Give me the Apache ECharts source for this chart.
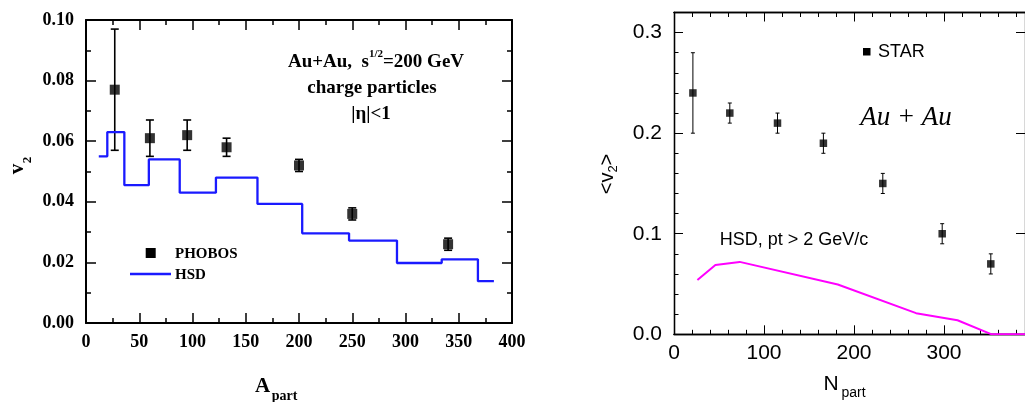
<!DOCTYPE html>
<html>
<head>
<meta charset="utf-8">
<script src="https://cdn.jsdelivr.net/npm/echarts@6/dist/echarts.min.js"></script>
<style>
html, body { margin: 0; padding: 0; background: #fff; }
#main { width: 1025px; height: 402px; }
</style>
</head>
<body>
<div id="main"></div>
<script>
// left panel: PHOBOS v2 vs A_part with HSD histogram
var phobosX = [27, 60, 95, 132, 200, 250, 340];
var phobosY = [0.077, 0.061, 0.062, 0.058, 0.052, 0.036, 0.026];
var phobosErr = [0.020, 0.006, 0.005, 0.003, 0.002, 0.002, 0.002];
var hsdEdges = [12, 20, 36, 59, 88, 122, 161, 203, 247, 292, 334, 368, 383];
var hsdLevels = [0.055, 0.063, 0.0455, 0.054, 0.043, 0.048, 0.0393, 0.0296, 0.0272, 0.0198, 0.021, 0.0138];

// right panel: STAR <v2> vs N_part, HSD pt > 2 GeV/c
var starX = [21, 62, 115, 166, 232, 298, 352];
var starY = [0.24, 0.22, 0.21, 0.19, 0.15, 0.10, 0.07];
var starErr = [0.04, 0.01, 0.01, 0.01, 0.01, 0.01, 0.01];
var hsdNX = [26, 46, 73, 182, 269, 315, 353, 390];
var hsdNY = [0.054, 0.069, 0.072, 0.0495, 0.021, 0.014, 0.0, 0.0];

var SERIF = "'Liberation Serif', 'Times New Roman', serif";
var SANS = "'Liberation Sans', Arial, sans-serif";

function zip(a, b, c) {
    var out = [];
    for (var i = 0; i < a.length; i++) {
        out.push(c ? [a[i], b[i], c[i]] : [a[i], b[i]]);
    }
    return out;
}

// histogram -> step points
var hsdSteps = [];
for (var i = 0; i < hsdLevels.length; i++) {
    hsdSteps.push([hsdEdges[i], hsdLevels[i]], [hsdEdges[i + 1], hsdLevels[i]]);
}

function errorBars(cap, width) {
    return function (params, api) {
        var x = api.value(0), y = api.value(1), e = api.value(2);
        var hi = api.coord([x, y + e]);
        var lo = api.coord([x, y - e]);
        var st = { stroke: '#000', lineWidth: width };
        return {
            type: 'group',
            children: [
                { type: 'line', shape: { x1: hi[0], y1: hi[1], x2: lo[0], y2: lo[1] }, style: st },
                { type: 'line', shape: { x1: hi[0] - cap, y1: hi[1], x2: hi[0] + cap, y2: hi[1] }, style: st },
                { type: 'line', shape: { x1: lo[0] - cap, y1: lo[1], x2: lo[0] + cap, y2: lo[1] }, style: st }
            ]
        };
    };
}

// one axis; ticks drawn inward, no grid lines
function axis(o, lw) {
    var a = {
        type: 'value',
        splitLine: { show: false },
        axisLine: { show: true, onZero: false, lineStyle: { color: '#000', width: lw } },
        axisTick: { show: true, inside: true, length: 5, lineStyle: { color: '#000', width: lw * 0.75 } },
        axisLabel: { show: false },
        minorTick: { show: false },
        minorSplitLine: { show: false }
    };
    for (var k in o) a[k] = o[k];
    return a;
}

var leftLabel = { show: true, color: '#000', fontFamily: SERIF, fontWeight: 'bold', fontSize: 18 };
var rightLabel = { show: true, color: '#000', fontFamily: SANS, fontSize: 21 };

var option = {
    animation: false,
    backgroundColor: '#fff',
    grid: [
        { left: 86, top: 20, width: 426, height: 303 },
        { left: 674, top: 12.5, width: 357, height: 321.8 }
    ],
    xAxis: [
        axis({ gridIndex: 0, position: 'bottom', min: 0, max: 400, interval: 50,
            axisTick: { show: true, inside: true, length: 10, lineStyle: { color: '#000', width: 1.5 } },
            minorTick: { show: true, splitNumber: 2, length: 5, lineStyle: { color: '#000', width: 1.5 } },
            axisLabel: Object.assign({ margin: 10 }, leftLabel) }, 2),
        axis({ gridIndex: 0, position: 'top', min: 0, max: 400, interval: 50,
            axisTick: { show: true, inside: true, length: 10, lineStyle: { color: '#000', width: 1.5 } },
            minorTick: { show: true, splitNumber: 2, length: 5, lineStyle: { color: '#000', width: 1.5 } } }, 2),
        axis({ gridIndex: 1, position: 'bottom', min: 0, max: 390, interval: 20,
            axisTick: { show: true, inside: true, length: 4.5, lineStyle: { color: '#000', width: 1 } } }, 1.3),
        axis({ gridIndex: 1, position: 'bottom', min: 0, max: 390, interval: 100,
            axisTick: { show: true, inside: true, length: 9, lineStyle: { color: '#000', width: 1 } },
            axisLabel: Object.assign({ margin: 8, showMaxLabel: false }, rightLabel) }, 1.3),
        axis({ gridIndex: 1, position: 'top', min: 0, max: 390, interval: 20,
            axisTick: { show: true, inside: true, length: 4.5, lineStyle: { color: '#000', width: 1 } } }, 1.3),
        axis({ gridIndex: 1, position: 'top', min: 0, max: 390, interval: 100,
            axisTick: { show: true, inside: true, length: 9, lineStyle: { color: '#000', width: 1 } } }, 1.3)
    ],
    yAxis: [
        axis({ gridIndex: 0, position: 'left', min: 0, max: 0.1, interval: 0.02,
            axisTick: { show: true, inside: true, length: 10, lineStyle: { color: '#000', width: 1.5 } },
            minorTick: { show: true, splitNumber: 2, length: 5, lineStyle: { color: '#000', width: 1.5 } },
            axisLabel: Object.assign({ margin: 12, formatter: function (v) { return v.toFixed(2); } }, leftLabel) }, 2),
        axis({ gridIndex: 0, position: 'right', min: 0, max: 0.1, interval: 0.02,
            axisTick: { show: true, inside: true, length: 10, lineStyle: { color: '#000', width: 1.5 } },
            minorTick: { show: true, splitNumber: 2, length: 5, lineStyle: { color: '#000', width: 1.5 } } }, 2),
        axis({ gridIndex: 1, position: 'left', min: 0, max: 0.32, interval: 0.02,
            axisTick: { show: true, inside: true, length: 4.5, lineStyle: { color: '#000', width: 1 } } }, 1.3),
        axis({ gridIndex: 1, position: 'left', min: 0, max: 0.32, interval: 0.1,
            axisTick: { show: true, inside: true, length: 9, lineStyle: { color: '#000', width: 1 } },
            axisLabel: Object.assign({ margin: 12, showMaxLabel: false,
                formatter: function (v) { return v.toFixed(1); } }, rightLabel) }, 1.3),
        axis({ gridIndex: 1, position: 'right', min: 0, max: 0.32, interval: 0.1,
            axisTick: { show: true, inside: true, length: 9, lineStyle: { color: '#000', width: 1 } } }, 1.3)
    ],
    series: [
        {
            name: 'HSD', type: 'line', xAxisIndex: 0, yAxisIndex: 0,
            data: hsdSteps, symbol: 'none',
            lineStyle: { color: '#1a1aff', width: 2.3 }
        },
        {
            name: 'PHOBOS err', type: 'custom', xAxisIndex: 0, yAxisIndex: 0,
            dimensions: ['x', 'y', 'err'], encode: { x: 'x', y: 'y' },
            data: zip(phobosX, phobosY, phobosErr),
            renderItem: errorBars(4, 1.6), z: 3
        },
        {
            name: 'PHOBOS', type: 'scatter', xAxisIndex: 0, yAxisIndex: 0,
            data: zip(phobosX, phobosY), symbol: 'rect', symbolSize: 10,
            itemStyle: { color: '#000' }, z: 4
        },
        {
            name: 'HSD pt>2', type: 'line', xAxisIndex: 2, yAxisIndex: 2,
            data: zip(hsdNX, hsdNY), symbol: 'none',
            lineStyle: { color: '#ff00ff', width: 2 }
        },
        {
            name: 'STAR err', type: 'custom', xAxisIndex: 2, yAxisIndex: 2,
            dimensions: ['x', 'y', 'err'], encode: { x: 'x', y: 'y' },
            data: zip(starX, starY, starErr),
            renderItem: errorBars(2, 1), z: 3
        },
        {
            name: 'STAR', type: 'scatter', xAxisIndex: 2, yAxisIndex: 2,
            data: zip(starX, starY), symbol: 'rect', symbolSize: 7.5,
            itemStyle: { color: '#000' }, z: 4
        }
    ],
    graphic: [
        // left panel texts
        { type: 'text', x: 376, y: 62, style: { text: 'Au+Au,  s{sup|1/2}=200 GeV', font: 'bold 19px ' + SERIF,
            fill: '#000', align: 'center', verticalAlign: 'middle', lineHeight: 26,
            rich: { sup: { font: 'bold 11px ' + SERIF, verticalAlign: 'top', lineHeight: 11 } } } },
        { type: 'text', x: 372, y: 88, style: { text: 'charge particles', font: 'bold 19px ' + SERIF,
            fill: '#000', align: 'center', verticalAlign: 'middle' } },
        { type: 'text', x: 371, y: 114, style: { text: '|η|<1', font: 'bold 19px ' + SERIF,
            fill: '#000', align: 'center', verticalAlign: 'middle' } },
        { type: 'rect', shape: { x: 145.7, y: 248, width: 10, height: 10 }, style: { fill: '#000' } },
        { type: 'text', x: 175, y: 254, style: { text: 'PHOBOS', font: 'bold 15px ' + SERIF, fill: '#000',
            align: 'left', verticalAlign: 'middle' } },
        { type: 'line', shape: { x1: 130, y1: 274, x2: 171, y2: 274 }, style: { stroke: '#1a1aff', lineWidth: 2.3 } },
        { type: 'text', x: 175, y: 275, style: { text: 'HSD', font: 'bold 15px ' + SERIF, fill: '#000',
            align: 'left', verticalAlign: 'middle' } },
        { type: 'text', x: 17.5, y: 169, rotation: Math.PI / 2, style: { text: 'v', font: 'bold 21px ' + SERIF,
            fill: '#000', align: 'center', verticalAlign: 'middle' } },
        { type: 'text', x: 27.5, y: 160, rotation: Math.PI / 2, style: { text: '2', font: 'bold 13px ' + SERIF,
            fill: '#000', align: 'center', verticalAlign: 'middle' } },
        { type: 'text', x: 262.5, y: 387, style: { text: 'A', font: 'bold 21px ' + SERIF,
            fill: '#000', align: 'center', verticalAlign: 'middle' } },
        { type: 'text', x: 284.5, y: 396, style: { text: 'part', font: 'bold 14px ' + SERIF,
            fill: '#000', align: 'center', verticalAlign: 'middle' } },
        // right panel texts
        { type: 'rect', shape: { x: 863, y: 48, width: 7.5, height: 7.5 }, style: { fill: '#000' } },
        { type: 'text', x: 878, y: 52, style: { text: 'STAR', font: '18px ' + SANS, fill: '#000',
            align: 'left', verticalAlign: 'middle' } },
        { type: 'text', x: 906, y: 118, style: { text: 'Au + Au', font: 'italic 27px ' + SERIF, fill: '#000',
            align: 'center', verticalAlign: 'middle' } },
        { type: 'text', x: 794, y: 240, style: { text: 'HSD, pt > 2 GeV/c', font: '18px ' + SANS, fill: '#000',
            align: 'center', verticalAlign: 'middle' } },
        { type: 'text', x: 607, y: 174, rotation: Math.PI / 2, style: { text: '<v{sub|2}>', font: '20px ' + SANS,
            fill: '#000', align: 'center', verticalAlign: 'middle', lineHeight: 26,
            rich: { sub: { font: '13px ' + SANS, verticalAlign: 'bottom', lineHeight: 13 } } } },
        { type: 'text', x: 831, y: 384.5, style: { text: 'N', font: '21px ' + SANS,
            fill: '#000', align: 'center', verticalAlign: 'middle' } },
        { type: 'text', x: 853.5, y: 393, style: { text: 'part', font: '14px ' + SANS,
            fill: '#000', align: 'center', verticalAlign: 'middle' } }
    ]
};

var myChart = echarts.init(document.getElementById('main'));
myChart.setOption(option);
</script>
</body>
</html>
